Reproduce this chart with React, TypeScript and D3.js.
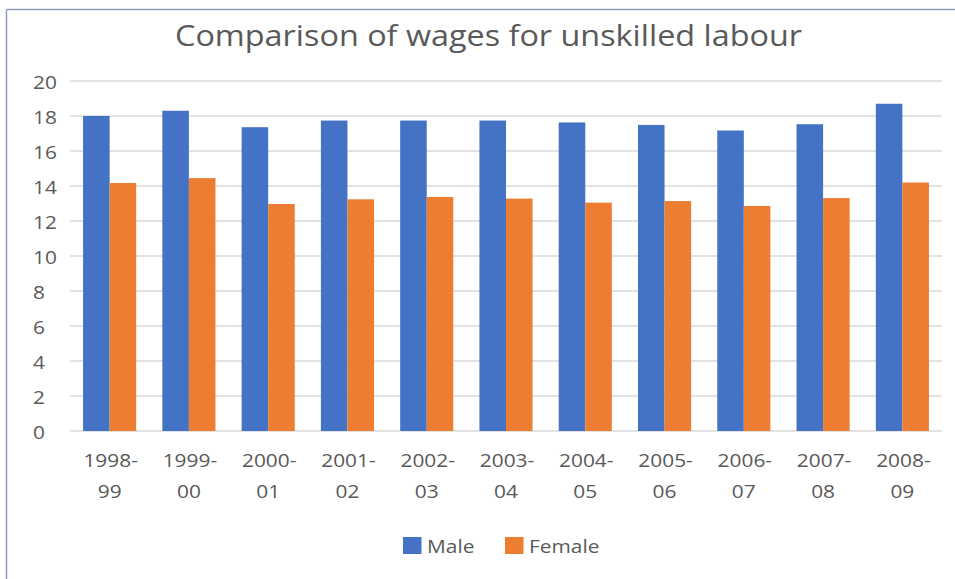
import React from "react";
import * as d3 from "d3";

const categories = ["1998-99","1999-00","2000-01","2001-02","2002-03","2003-04","2004-05","2005-06","2006-07","2007-08","2008-09"];
const maleValues = [18.0, 18.3, 17.36, 17.74, 17.74, 17.74, 17.63, 17.49, 17.17, 17.53, 18.7];
const femaleValues = [14.17, 14.45, 12.97, 13.24, 13.37, 13.28, 13.05, 13.14, 12.86, 13.31, 14.2];
const yTicks = [0, 2, 4, 6, 8, 10, 12, 14, 16, 18, 20];
const seriesNames = ["Male", "Female"];
const seriesColors = ["#4472C4", "#ED7D31"];

const W = 955, H = 579;
const left = 70, right = 942, top = 81, bottom = 431;
const font = "'Open Sans', 'Liberation Sans', sans-serif";
const textColor = "#595959";
const SX = 1.13;

function T({ x, y, anchor = "start", size = 18.5, children }: { x: number; y: number; anchor?: string; size?: number; children: React.ReactNode }) {
  return (
    <text transform={`translate(${x},${y}) scale(${SX},1)`} textAnchor={anchor} fontFamily={font} fontSize={size} fill={textColor}>
      {children}
    </text>
  );
}

export default function App() {
  const x = d3.scaleBand<string>().domain(categories).range([left, right]).paddingInner(0.33).paddingOuter(0.165);
  const x1 = d3.scaleBand<string>().domain(seriesNames).range([0, x.bandwidth()]);
  const y = d3.scaleLinear().domain([0, 20]).range([bottom, top]);
  const series = [maleValues, femaleValues];

  return (
    <svg width={W} height={H} style={{ position: "absolute", left: 0, top: 0, background: "#fff" }}>
      <rect x={0} y={0} width={W} height={H} fill="#ffffff" />
      <line x1={6.5} y1={9.5} x2={W} y2={9.5} stroke="#8c9cb6" strokeWidth={1.5} />
      <line x1={6.5} y1={9.5} x2={6.5} y2={H} stroke="#8c9cb6" strokeWidth={1.5} />
      <text x={175} y={46} textLength={627} lengthAdjust="spacingAndGlyphs" fontFamily={font} fontSize={29.5} fill={textColor}>
        Comparison of wages for unskilled labour
      </text>
      {yTicks.map((t) => (
        <g key={t}>
          <line x1={left} x2={right} y1={y(t)} y2={y(t)} stroke="#d9d9d9" strokeWidth={1.3} />
          <T x={33} y={y(t) + 8}>{t}</T>
        </g>
      ))}
      {categories.map((c, i) => (
        <g key={c}>
          {series.map((vals, s) => (
            <rect key={s} x={(x(c) as number) + (x1(seriesNames[s]) as number)} y={y(vals[i])}
              width={x1.bandwidth()} height={y(0) - y(vals[i])} fill={seriesColors[s]} />
          ))}
          <T x={(x(c) as number) + x.bandwidth() / 2 + 1} y={467} anchor="middle">{c.split("-")[0] + "-"}</T>
          <T x={(x(c) as number) + x.bandwidth() / 2} y={498} anchor="middle">{c.split("-")[1]}</T>
        </g>
      ))}
      {seriesNames.map((n, s) => {
        const lx = s === 0 ? 403 : 505;
        return (
          <g key={n}>
            <rect x={lx} y={537} width={18.5} height={17} fill={seriesColors[s]} />
            <T x={lx + 24} y={553}>{n}</T>
          </g>
        );
      })}
    </svg>
  );
}
